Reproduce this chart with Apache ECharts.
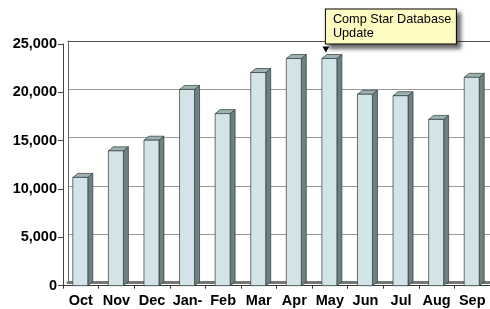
<!DOCTYPE html>
<html>
<head>
<meta charset="UTF-8"/>
<title>Comp Star</title>
<script src="https://cdn.jsdelivr.net/npm/echarts@6/dist/echarts.min.js"></script>
<style>
  html, body { margin: 0; padding: 0; background: #fff; }
  #chart { width: 490px; height: 309px; }
</style>
</head>
<body>
<div id="chart"></div>
<script>
// data
const months = ['Oct', 'Nov', 'Dec', 'Jan-', 'Feb', 'Mar', 'Apr', 'May', 'Jun', 'Jul', 'Aug', 'Sep'];
const counts = [11200, 13950, 15050, 20300, 17800, 22050, 23500, 23500, 19800, 19650, 17200, 21550];
const yTicks = [0, 5000, 10000, 15000, 20000, 25000];
const noteIndex = 7;
const noteText = 'Comp Star Database\nUpdate';

const chart = echarts.init(document.getElementById('chart'));
const boldFont = { fontFamily: 'Liberation Sans, Arial, sans-serif', fontWeight: 'bold', fontSize: 14.5, color: '#000' };

// bar with a side face and a top cap, for the old 3D look
function renderBar(params, api) {
  const top = api.coord([api.value(0), api.value(1)]);
  const base = api.coord([api.value(0), 0]);
  const l = top[0] - 8, r = top[0] + 7, dx = 5, dy = -4;
  const edge = { stroke: '#2e3a3a', lineWidth: 0.7 };
  return {
    type: 'group',
    children: [
      { type: 'polygon', shape: { points: [[r, top[1]], [r + dx, top[1] + dy], [r + dx, base[1] + dy], [r, base[1]]] },
        style: Object.assign({ fill: '#6f8081' }, edge) },
      { type: 'polygon', shape: { points: [[l, top[1]], [l + dx, top[1] + dy], [r + dx, top[1] + dy], [r, top[1]]] },
        style: Object.assign({ fill: '#9db3b3' }, edge) },
      { type: 'rect', shape: { x: l, y: top[1], width: r - l, height: base[1] - top[1] },
        style: Object.assign({ fill: '#d2e4e7' }, edge) }
    ]
  };
}

chart.setOption({
  animation: false,
  grid: [
    { left: 63, right: -2, top: 44, bottom: 23.3 },
    { left: 68, right: -7, top: 41, bottom: 26.3 }
  ],
  xAxis: [
    { type: 'category', gridIndex: 0, data: months, boundaryGap: true,
      axisLine: { lineStyle: { color: '#333', width: 1 } },
      axisTick: { show: true, length: 3, lineStyle: { color: '#333' } },
      axisLabel: Object.assign({ margin: 8, interval: 0 }, boldFont) },
    { type: 'category', gridIndex: 1, data: months, position: 'bottom',
      axisLine: { lineStyle: { color: '#777', width: 3 } },
      axisTick: { show: false }, axisLabel: { show: false } },
    { type: 'category', gridIndex: 1, data: months, position: 'top',
      axisLine: { lineStyle: { color: '#555', width: 1 } },
      axisTick: { show: false }, axisLabel: { show: false } }
  ],
  yAxis: [
    { type: 'value', gridIndex: 0, min: 0, max: 25000, interval: 5000,
      splitLine: { show: false },
      axisLine: { show: true, lineStyle: { color: '#444' } },
      axisTick: { show: true, length: 5, lineStyle: { color: '#444' } },
      axisLabel: Object.assign({ margin: 6, formatter: v => yTicks.includes(v) ? v.toLocaleString('en-US') : '' }, boldFont) },
    { type: 'value', gridIndex: 1, min: 0, max: 25000, interval: 5000,
      splitLine: { show: true, lineStyle: { color: '#9a9a9a', width: 1 } },
      axisLine: { show: true, lineStyle: { color: '#666' } },
      axisTick: { show: false }, axisLabel: { show: false } }
  ],
  series: [{
    type: 'custom',
    xAxisIndex: 0, yAxisIndex: 0,
    renderItem: renderBar,
    data: months.map((m, i) => [i, counts[i]]),
    z: 5,
    markPoint: {
      silent: true,
      symbol: 'triangle',
      symbolRotate: 180,
      symbolSize: [7, 6],
      symbolOffset: [-4, -9],
      itemStyle: { color: '#000' },
      label: {
        show: true,
        formatter: noteText,
        position: [3.5, -3],
        align: 'left',
        verticalAlign: 'bottom',
        fontFamily: 'Liberation Sans, Arial, sans-serif',
        fontSize: 12.7,
        lineHeight: 14,
        color: '#000',
        backgroundColor: '#fdfbc2',
        borderColor: '#000',
        borderWidth: 1,
        padding: [3, 6, 3, 7],
        width: 117,
        shadowColor: 'rgba(0,0,0,0.55)',
        shadowBlur: 4,
        shadowOffsetX: 4,
        shadowOffsetY: 4
      },
      data: [{ coord: [noteIndex, counts[noteIndex]] }]
    }
  }]
});
</script>
</body>
</html>
